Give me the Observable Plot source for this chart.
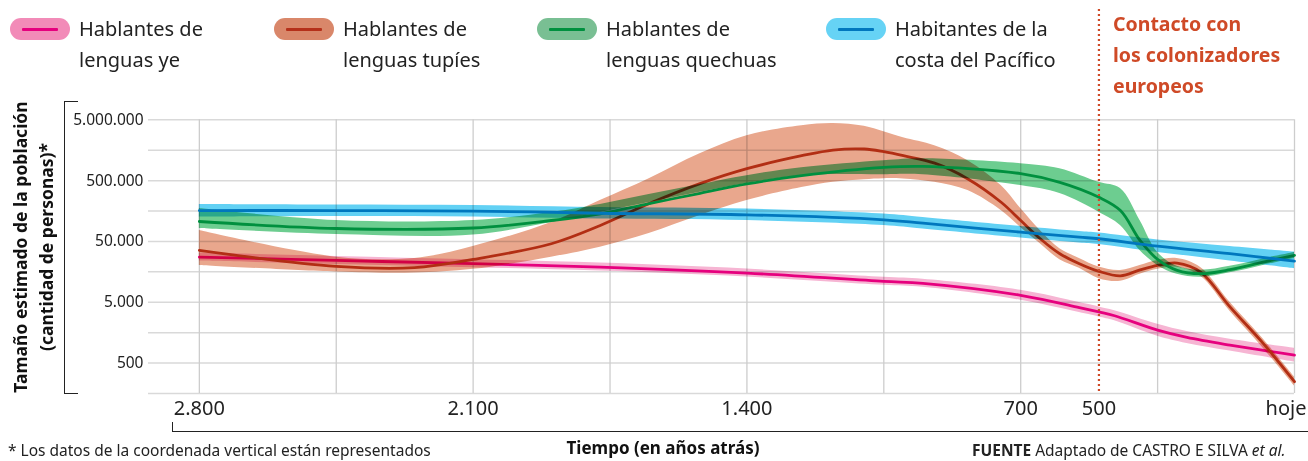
<!DOCTYPE html>
<html><head><meta charset="utf-8">
<script src="https://cdn.jsdelivr.net/npm/d3@7"></script>
<script src="https://cdn.jsdelivr.net/npm/@observablehq/plot@0.6"></script>
<style>
body{margin:0;background:#fff;font-family:"Noto Sans",sans-serif;}
#wrap{position:relative;width:1308px;height:461px;overflow:hidden;background:#fff;}
#chart{position:absolute;left:0;top:0;}
.leg{position:absolute;top:13px;font-size:20px;color:#222;line-height:31px;white-space:nowrap;}
.sw{position:absolute;top:18px;width:60px;height:22px;border-radius:11px;}
.sw i{position:absolute;left:12px;right:12px;top:9.5px;height:3px;border-radius:1px;}
.ann{position:absolute;left:1113px;top:8px;font-size:19.5px;font-weight:700;color:#cf4a27;line-height:31px;white-space:nowrap;}
.ytitle{position:absolute;font-size:17.5px;font-weight:700;color:#111;white-space:nowrap;transform:translate(-50%,-50%) rotate(-90deg);}
.ybr{position:absolute;left:64px;top:101px;width:13px;height:291px;border-left:1.5px solid #222;border-top:1.5px solid #222;border-bottom:1.5px solid #222;}
.xbr{position:absolute;left:172px;top:422px;width:1200px;height:9px;border-left:1.5px solid #222;border-bottom:1.5px solid #222;}
.xtitle{position:absolute;left:663px;top:436px;transform:translateX(-50%);font-size:17px;line-height:23px;font-weight:700;color:#111;white-space:nowrap;}
.note{position:absolute;left:8px;top:441px;font-size:15.5px;line-height:19px;color:#222;white-space:nowrap;}
.src{position:absolute;left:972px;top:441px;font-size:15.5px;line-height:19px;color:#222;white-space:nowrap;}
</style>
</head><body>
<div id="wrap">
  <div id="chart"></div>
  <div class="sw" style="left:10px;background:#f28bb8"><i style="background:#e6007e"></i></div>
  <div class="leg" style="left:79px">Hablantes de<br>lenguas ye</div>
  <div class="sw" style="left:274px;background:#d9876a"><i style="background:#b5301a"></i></div>
  <div class="leg" style="left:343px">Hablantes de<br>lenguas tupíes</div>
  <div class="sw" style="left:537px;background:#79bf93"><i style="background:#00903f"></i></div>
  <div class="leg" style="left:606px">Hablantes de<br>lenguas quechuas</div>
  <div class="sw" style="left:826px;background:#66d3f5"><i style="background:#0077be"></i></div>
  <div class="leg" style="left:895px">Habitantes de la<br>costa del Pacífico</div>
  <div class="ann">Contacto con<br>los colonizadores<br>europeos</div>
  <div class="ytitle" style="left:20px;top:247px">Tamaño estimado de la población</div>
  <div class="ytitle" style="left:46px;top:247px">(cantidad de personas)*</div>
  <div class="ybr"></div>
  <div class="xbr"></div>
  <div class="xtitle">Tiempo (en años atrás)</div>
  <div class="note">* Los datos de la coordenada vertical están representados</div>
  <div class="src"><b>FUENTE</b> Adaptado de CASTRO E SILVA <i>et al.</i></div>
</div>
<script>
// ---- data (years before present, estimated population) ----
const yeYears = [2800, 2450, 2100, 1775, 1400, 1050, 950, 700, 550, 500, 460, 350, 275, 165, 0];
const yeMid = [27640, 24400, 21550, 18960, 15110, 11050, 10240, 6511, 4094, 3467, 3004, 1738, 1319, 986, 676];
const yeHi = [32150, 28390, 25060, 22040, 17570, 12850, 11910, 7865, 4944, 4187, 3627, 2179, 1654, 1237, 881];
const yeLo = [23770, 20980, 18530, 16300, 12990, 9500, 8809, 5392, 3389, 2871, 2487, 1385, 1052, 787, 519];

const tupiYears = [2800, 2450, 2250, 2100, 1900, 1775, 1650, 1520, 1400, 1260, 1180, 1100, 1050, 1000, 920, 835, 750, 700, 650, 600, 550, 500, 445, 395, 350, 300, 240, 165, 80, 0];
const tupiMid = [35600, 19460, 18530, 25350, 45840, 91500, 209900, 446400, 786500, 1285000, 1593000, 1655000, 1494000, 1285000, 967800, 533000, 220500, 110500, 55400, 31430, 21550, 16120, 13600, 17050, 20210, 22040, 15690, 4190, 1052, 247];
const tupiHi = [75700, 27600, 26300, 41400, 102400, 235000, 539000, 1385000, 2734000, 3987000, 4347000, 3912000, 3179000, 2534000, 1874000, 1064000, 414000, 173800, 75700, 38000, 26300, 19000, 16700, 20200, 24400, 26300, 18700, 5000, 1240, 295];
const tupiLo = [20200, 15700, 15100, 17400, 27600, 40300, 67600, 133400, 235000, 383900, 469000, 519000, 539000, 533000, 469000, 342800, 161200, 84800, 45800, 25100, 18050, 12230, 11050, 14390, 17380, 18740, 13340, 3560, 881, 210];

const quechuaYears = [2800, 2450, 2100, 1900, 1775, 1650, 1520, 1400, 1260, 1050, 950, 700, 600, 500, 445, 395, 350, 300, 240, 165, 80, 0];
const quechuaMid = [106400, 81700, 83250, 110500, 142300, 209800, 309700, 441500, 603800, 826000, 857800, 651000, 469000, 266200, 161200, 51930, 25350, 16740, 14770, 17180, 22880, 29480];
const quechuaHi = [173800, 110500, 110500, 149400, 202100, 294800, 429900, 603800, 816800, 1064000, 1147000, 949900, 786500, 469000, 369700, 110500, 33010, 19460, 16740, 19460, 25830, 33010];
const quechuaLo = [81700, 65110, 63900, 102400, 149400, 217900, 321600, 446400, 603800, 627000, 627000, 414000, 306200, 151100, 91500, 35600, 20210, 14390, 12850, 15220, 20210, 26320];

const pacificYears = [2800, 2450, 2100, 1775, 1400, 1050, 950, 700, 550, 500, 350, 165, 0];
const pacificMid = [161200, 161200, 158100, 145500, 137000, 113400, 99770, 71030, 58830, 55370, 41870, 31430, 23770];
const pacificHi = [202100, 198300, 194600, 180500, 170500, 141200, 123700, 88070, 72940, 68900, 52920, 41400, 33390];
const pacificLo = [125100, 128500, 126100, 116900, 110500, 91500, 80150, 57070, 47250, 44640, 33010, 23950, 17840];

const xTicks = [2800, 2100, 1400, 700, 500];
const xTickLabels = ["2.800", "2.100", "1.400", "700", "500"];
const xTodayLabel = "hoje";
const yTicks = [5000000, 500000, 50000, 5000, 500];
const yTickLabels = ["5.000.000", "500.000", "50.000", "5.000", "500"];
const xGrid = [2800, 2450, 2100, 1750, 1400, 1050, 700, 350, 0];
const yGrid = [5000000, 1581139, 500000, 158114, 50000, 15811, 5000, 1581, 500, 158.1];
const contactYear = [500];

function rows(years, mid, lo, hi) {
  return years.map((y, i) => ({year: y, mid: mid[i], lo: lo[i], hi: hi[i]}));
}
const series = [
  {d: rows(yeYears, yeMid, yeLo, yeHi), band: "#f6b5d3", line: "#e6007e"},
  {d: rows(tupiYears, tupiMid, tupiLo, tupiHi), band: "#e9a78d", line: "#b22e14"},
  {d: rows(quechuaYears, quechuaMid, quechuaLo, quechuaHi), band: "#6dcd90", line: "#00903f"},
  {d: rows(pacificYears, pacificMid, pacificLo, pacificHi), band: "#62d1f4", line: "#0077be"}
];
const curve = "catmull-rom";
const marks = [
  Plot.ruleY(yGrid, {stroke: "#d9d9d9", strokeWidth: 1.5}),
  Plot.ruleX(xGrid, {y1: yGrid[0], y2: yGrid[yGrid.length - 1], stroke: "#cdcdcd", strokeWidth: 1.3})
];
for (const s of series) {
  marks.push(Plot.areaY(s.d, {x: "year", y1: "lo", y2: "hi", fill: s.band, curve, mixBlendMode: "multiply"}));
  marks.push(Plot.lineY(s.d, {x: "year", y: "mid", stroke: s.line, strokeWidth: 2.8, curve}));
}
marks.push(
  Plot.ruleX(contactYear, {stroke: "#cf4a27", strokeWidth: 2.2, strokeDasharray: "2,3", insetTop: -92}),
  Plot.text(yTicks, {y: d => d, frameAnchor: "left", textAnchor: "end", dx: -5, text: (d, i) => yTickLabels[i], fontSize: 15.5, fill: "#222"}),
  Plot.text(xTicks, {x: d => d, frameAnchor: "bottom", lineAnchor: "top", dy: 7, text: (d, i) => xTickLabels[i], fontSize: 20, fill: "#222"}),
  Plot.text([0], {x: d => d, frameAnchor: "bottom", lineAnchor: "top", dy: 7, dx: 12, textAnchor: "end", text: () => xTodayLabel, fontSize: 20, fill: "#222"})
);
const plot = Plot.plot({
  width: 1308, height: 461,
  marginLeft: 148, marginRight: 14, marginTop: 101, marginBottom: 68,
  x: {domain: [2930, 0], axis: null},
  y: {type: "log", domain: [158.1, 1e7], axis: null},
  style: {fontFamily: "Noto Sans", background: "transparent", color: "#222", overflow: "visible"},
  marks
});
document.getElementById("chart").appendChild(plot);
</script>
</body></html>
